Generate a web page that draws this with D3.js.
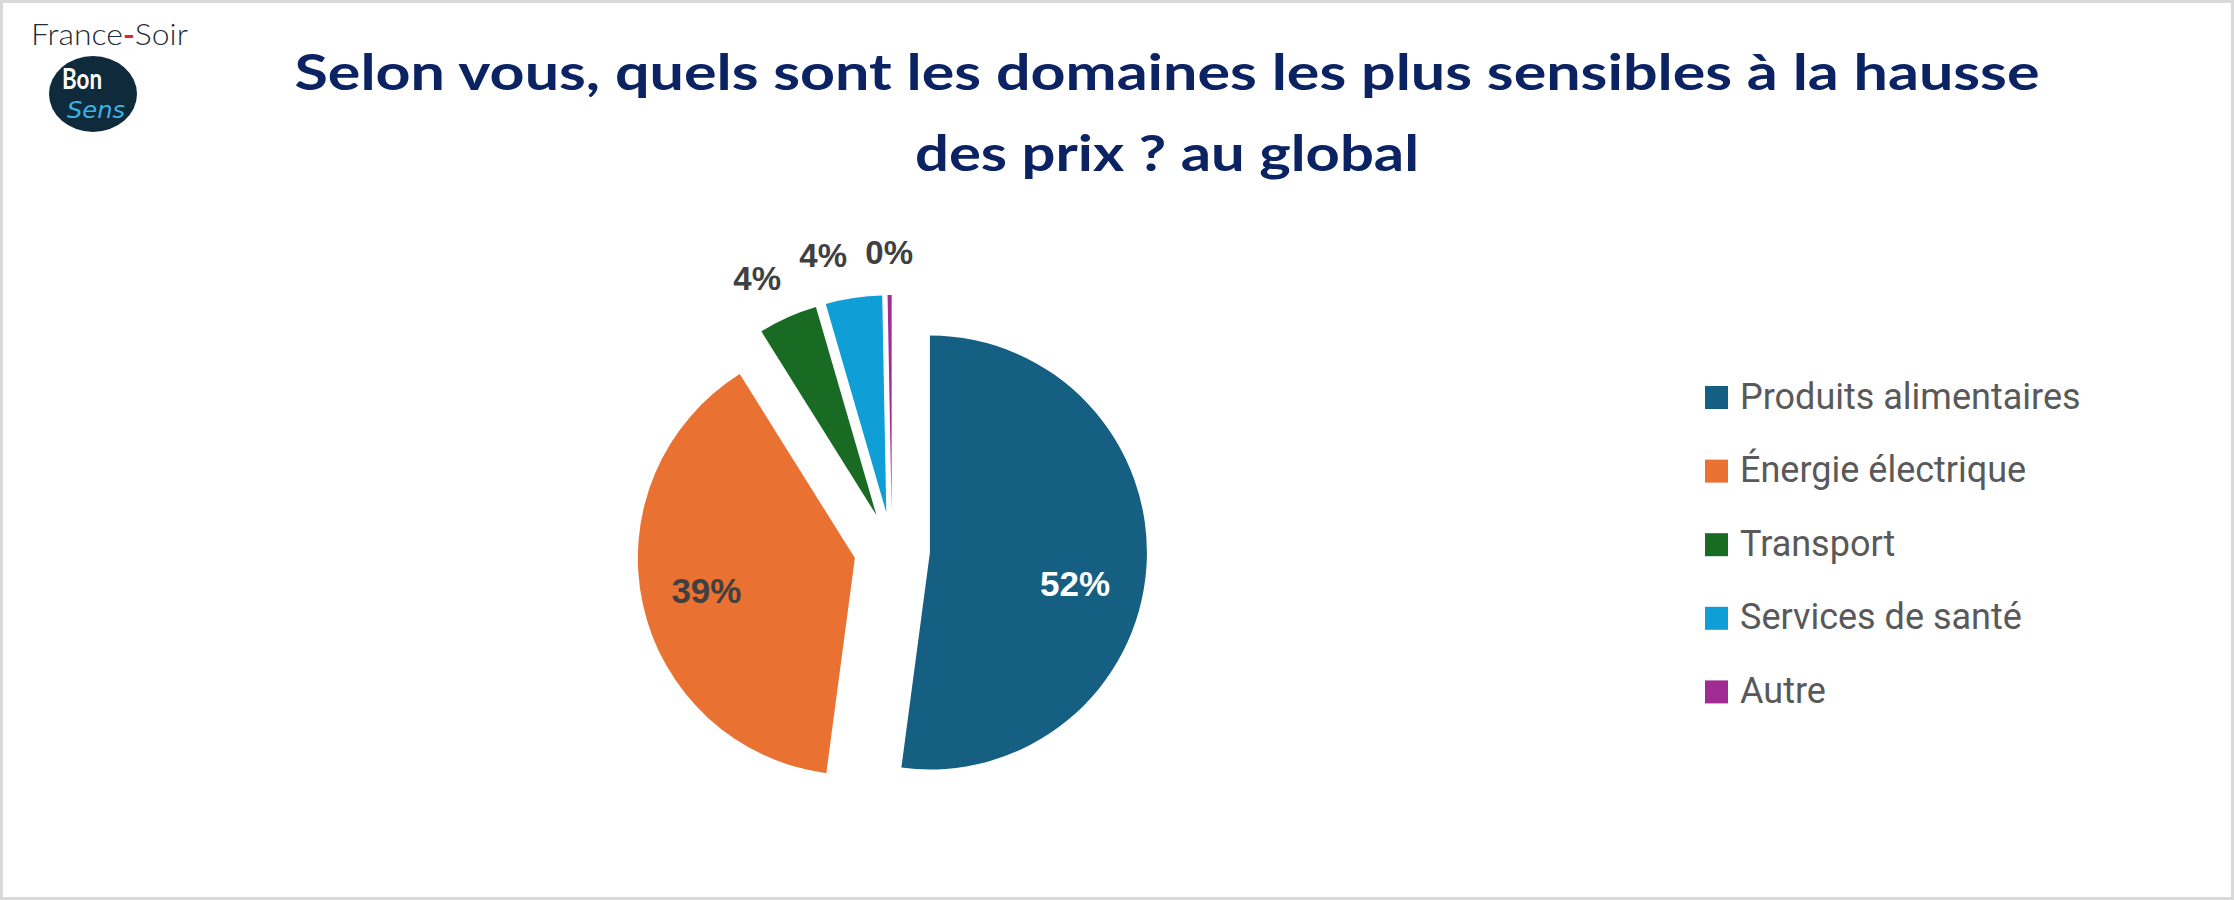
<!DOCTYPE html>
<html>
<head>
<meta charset="utf-8">
<script src="https://cdn.jsdelivr.net/npm/d3@7"></script>
<style>
  html, body { margin: 0; padding: 0; background: #ffffff; }
  svg { display: block; }
</style>
</head>
<body>
<div id="chart"></div>
<script>
// ---- Data ----
const titleLines = ["Selon vous, quels sont les domaines les plus sensibles à la hausse", "des prix ? au global"];
const categories = ["Produits alimentaires", "Énergie électrique", "Transport", "Services de santé", "Autre"];
const values = [52.1, 39.0, 4.4, 4.2, 0.3];
const colors = ["#156082", "#E97132", "#196B24", "#0F9ED5", "#A02B93"];

// ---- Layout ----
const W = 2234, H = 900;
const cx = 892, cy = 550, R = 217, explode = 38;
// small layout nudge for the big inside label (Excel "best fit" placement)
const insideLabelNudge = { 0: [-6.5, 21] };

const svg = d3.select("#chart").append("svg")
  .attr("width", W).attr("height", H)
  .attr("viewBox", `0 0 ${W} ${H}`);

svg.append("rect").attr("x", 1.5).attr("y", 1.5)
  .attr("width", W - 3).attr("height", H - 3)
  .attr("fill", "#ffffff").attr("stroke", "#d9d9d9").attr("stroke-width", 3);

// ---- Logo ----
const logo = svg.append("g");
logo.append("text").attr("x", 31).attr("y", 45)
  .attr("font-family", "Lato, 'Noto Sans', sans-serif").attr("font-weight", 300)
  .attr("font-size", 29).attr("fill", "#1c2c3c")
  .call(t => {
    t.append("tspan").text("France");
    t.append("tspan").attr("fill", "#e3262b").attr("font-weight", 700).text("-");
    t.append("tspan").text("Soir");
  })
  .attr("textLength", 157).attr("lengthAdjust", "spacingAndGlyphs");
logo.append("ellipse").attr("cx", 93).attr("cy", 94).attr("rx", 44).attr("ry", 38).attr("fill", "#0e2a3b");
logo.append("text").attr("x", 62).attr("y", 89)
  .attr("font-family", "Lato, 'Noto Sans', sans-serif").attr("font-weight", 700)
  .attr("font-size", 28).attr("fill", "#ffffff").text("Bon")
  .attr("textLength", 40).attr("lengthAdjust", "spacingAndGlyphs");
logo.append("text").attr("x", 67).attr("y", 118)
  .attr("font-family", "'DejaVu Sans', sans-serif").attr("font-style", "italic")
  .attr("font-size", 23).attr("fill", "#3bb3e4").text("Sens")
  .attr("textLength", 58).attr("lengthAdjust", "spacingAndGlyphs");

// ---- Title ----
const titleBase = [90, 171];
const titleWidths = [1745, 504];
titleLines.forEach((line, i) => {
  svg.append("text")
    .attr("x", 1167).attr("y", titleBase[i])
    .attr("text-anchor", "middle")
    .attr("font-family", "Lato, 'Noto Sans', sans-serif")
    .attr("font-weight", 700).attr("font-size", 50)
    .attr("fill", "#0b2263")
    .attr("textLength", titleWidths[i]).attr("lengthAdjust", "spacingAndGlyphs")
    .text(line);
});

// ---- Pie ----
const data = categories.map((c, i) => ({ category: c, value: values[i], color: colors[i] }));
const total = d3.sum(values);
const pie = d3.pie().sort(null).value(d => d.value);
const arcs = pie(data);
const arc = d3.arc().innerRadius(0).outerRadius(R);

const g = svg.append("g").attr("transform", `translate(${cx},${cy})`);
const mid = d => (d.startAngle + d.endAngle) / 2;

g.selectAll("path.slice").data(arcs).join("path")
  .attr("class", "slice")
  .attr("d", arc)
  .attr("fill", d => d.data.color)
  .attr("transform", d => `translate(${explode * Math.sin(mid(d))},${-explode * Math.cos(mid(d))})`);

// labels
const fmt = d => Math.round(d.data.value / total * 100) + "%";
const labels = arcs.map((d, i) => {
  const m = mid(d);
  const inside = d.data.value / total >= 0.1;
  let x, y;
  if (inside) {
    const rr = explode + R * 0.7;
    x = rr * Math.sin(m); y = -rr * Math.cos(m);
    const n = insideLabelNudge[i];
    if (n) { x += n[0]; y += n[1]; }
  } else {
    const rr = 298;
    x = rr * Math.sin(m); y = -rr * Math.cos(m);
  }
  return { d, x, y, inside };
});
// simple collision avoidance for outside labels (right to left)
const outside = labels.filter(l => !l.inside).sort((a, b) => b.x - a.x);
for (let i = 1; i < outside.length; i++) {
  outside[i].x = Math.min(outside[i].x, outside[i - 1].x - 66);
}

g.selectAll("text.lbl").data(labels).join("text")
  .attr("class", "lbl")
  .attr("x", l => l.x).attr("y", l => l.y)
  .attr("dy", "0.36em")
  .attr("text-anchor", "middle")
  .attr("font-family", "'Liberation Sans', Arial, sans-serif")
  .attr("font-weight", 700)
  .attr("font-size", l => l.inside ? 35 : 33)
  .attr("fill", (l, i) => i === 0 ? "#ffffff" : "#404040")
  .text(l => fmt(l.d));

// ---- Legend ----
const legend = svg.append("g").attr("transform", "translate(1705,397.5)");
const rowH = 73.6;
const items = legend.selectAll("g.item").data(data).join("g")
  .attr("class", "item")
  .attr("transform", (d, i) => `translate(0,${i * rowH})`);
items.append("rect").attr("x", 0).attr("y", -11.5).attr("width", 23).attr("height", 23)
  .attr("fill", d => d.color);
items.append("text").attr("x", 35).attr("y", 11)
  .attr("font-family", "Roboto, 'Noto Sans', sans-serif")
  .attr("font-size", 36).attr("fill", "#595959")
  .text(d => d.category);
</script>
</body>
</html>
